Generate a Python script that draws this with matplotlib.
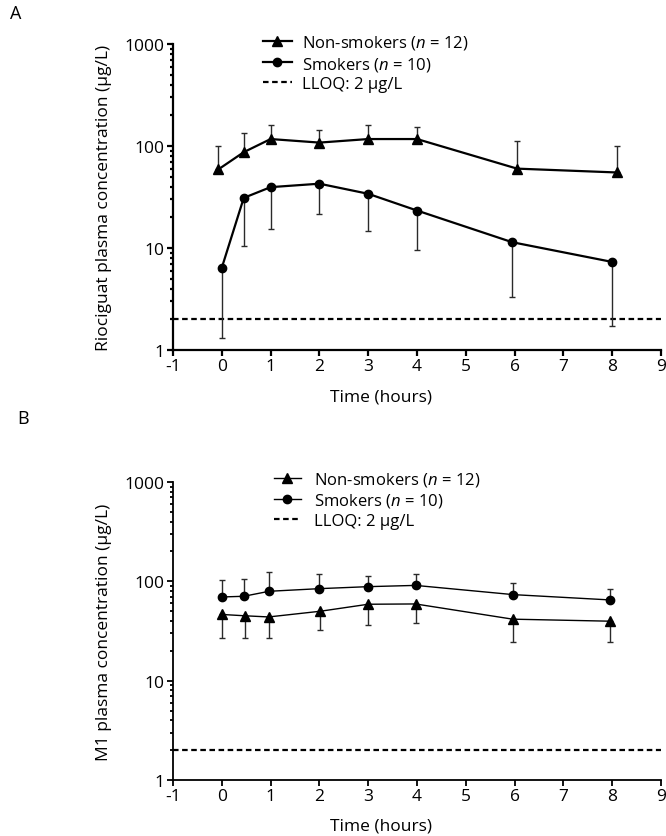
import numpy as np
import matplotlib
matplotlib.use('Agg')
from matplotlib import pyplot as plt
from matplotlib.ticker import LogLocator, NullFormatter, FixedLocator

plt.rcParams['font.family'] = ['Open Sans', 'DejaVu Sans']
plt.rcParams['mathtext.fontset'] = 'custom'
plt.rcParams['mathtext.rm'] = 'Open Sans'
plt.rcParams['mathtext.it'] = 'Open Sans:italic'
plt.rcParams['axes.unicode_minus'] = False

# * Panel A: riociguat, mean with one-sided SD
time_ns_a = [-0.07, 0.45, 1.0, 2.0, 3.0, 4.0, 6.05, 8.1]
conc_ns_a = [59, 87, 117, 108, 117, 117, 60, 55]
sd_ns_a = [41, 46, 44, 37, 44, 38, 52, 45]

time_s_a = [0.0, 0.45, 1.0, 2.0, 3.0, 4.0, 5.95, 8.0]
conc_s_a = [6.4, 31, 39.5, 42.7, 34, 23.3, 11.4, 7.3]
sd_s_a = [5.1, 20.5, 24, 21.3, 19.2, 13.7, 8.1, 5.6]

# * Panel B: M1 metabolite
time_ns_b = [0.0, 0.47, 0.96, 2.02, 3.0, 3.97, 5.96, 7.95]
conc_ns_b = [46.4, 45, 43.8, 50, 58.8, 59.2, 41.6, 39.7]
sd_ns_b = [19.4, 18, 16.8, 18, 22.8, 21.2, 16.9, 15.3]

time_s_b = [0.0, 0.45, 0.97, 2.0, 3.0, 3.97, 5.97, 7.95]
conc_s_b = [69.6, 70.7, 79.4, 84.4, 88.4, 91, 73.5, 65]
sd_s_b = [32.4, 35.3, 43.6, 33.2, 24.6, 28, 22, 19.4]

lloq = 2
x_ticks = list(range(-1, 10))
y_ticks = [1, 10, 100, 1000]

label_ns = 'Non-smokers ($n$ = 12)'
label_s = 'Smokers ($n$ = 10)'
label_lloq = 'LLOQ: 2 µg/L'

W, H = 666, 837
fig = plt.figure(figsize=(W / 100, H / 100), dpi=100)


def make_axes(left, top, right, bottom):
    return fig.add_axes([left / W, 1 - bottom / H, (right - left) / W, (bottom - top) / H])


def style_axes(ax, lw, ylabel):
    ax.set_yscale('log')
    ax.set_ylim(1, 1000)
    ax.set_xlim(-1, 9)
    for side in ('top', 'right'):
        ax.spines[side].set_visible(False)
    for side in ('left', 'bottom'):
        ax.spines[side].set_linewidth(lw)
    ax.xaxis.set_major_locator(FixedLocator(x_ticks))
    ax.set_xticklabels([str(t) for t in x_ticks])
    ax.yaxis.set_major_locator(FixedLocator(y_ticks))
    ax.set_yticklabels([str(t) for t in y_ticks])
    ax.yaxis.set_minor_locator(LogLocator(base=10, subs=np.arange(2, 10)))
    ax.yaxis.set_minor_formatter(NullFormatter())
    ax.tick_params(axis='both', which='major', direction='out', length=4, width=lw,
                   labelsize=12.5, pad=2)
    ax.tick_params(axis='y', which='minor', direction='out', length=2.5, width=lw)
    ax.set_xlabel('Time (hours)', fontsize=12.5)
    ax.set_ylabel(ylabel, fontsize=12.5)
    ax.xaxis.set_label_coords(0.426, -0.125)
    ax.yaxis.set_label_coords(-0.125, 0.5)


def draw_series(ax, x, y, sd, marker, ms, lw, upper, label):
    sd = np.array(sd)
    zeros = np.zeros_like(sd)
    yerr = [zeros, sd] if upper else [sd, zeros]
    ax.errorbar(x, y, yerr=yerr, fmt='none', ecolor='#2a2a2a', elinewidth=1.0,
                capsize=2.5, capthick=1.0, zorder=2)
    ax.plot(x, y, color='black', lw=lw, marker=marker, ms=ms, zorder=3, label=label)


# * Panel A
ax_a = make_axes(173, 45, 661, 351)
style_axes(ax_a, 1.6, 'Riociguat plasma concentration (µg/L)')
draw_series(ax_a, time_ns_a, conc_ns_a, sd_ns_a, '^', 6.5, 1.6, True, label_ns)
draw_series(ax_a, time_s_a, conc_s_a, sd_s_a, 'o', 6.0, 1.6, False, label_s)
ax_a.axhline(lloq, color='black', lw=1.6, dashes=(2.5, 1.6), label=label_lloq, zorder=1)
ax_a.legend(loc='upper left', bbox_to_anchor=(0.184, 1.035), frameon=False, fontsize=12,
            borderpad=0, borderaxespad=0, handlelength=1.75, handletextpad=0.6,
            labelspacing=0.2)

# * Panel B
ax_b = make_axes(173, 483, 661, 781)
style_axes(ax_b, 1.3, 'M1 plasma concentration (µg/L)')
draw_series(ax_b, time_ns_b, conc_ns_b, sd_ns_b, '^', 6.5, 1.0, False, label_ns)
draw_series(ax_b, time_s_b, conc_s_b, sd_s_b, 'o', 6.0, 1.0, True, label_s)
ax_b.axhline(lloq, color='black', lw=1.6, dashes=(2.5, 1.6), label=label_lloq, zorder=1)
ax_b.legend(loc='upper left', bbox_to_anchor=(0.207, 1.04), frameon=False, fontsize=12,
            borderpad=0, borderaxespad=0, handlelength=1.6, handletextpad=0.8,
            labelspacing=0.2)

fig.text(10 / W, 1 - 14 / H, 'A', fontsize=13, ha='left', va='center')
fig.text(23 / W, 1 - 419 / H, 'B', fontsize=13, ha='center', va='center')

fig.savefig('out.png', dpi=100)
